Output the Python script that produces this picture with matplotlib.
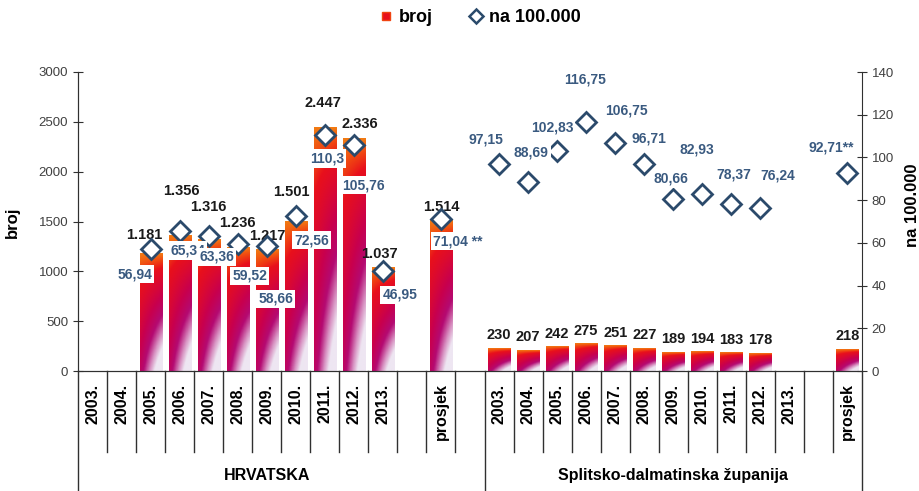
import numpy as np
import matplotlib.pyplot as plt
from matplotlib.colors import LinearSegmentedColormap
from matplotlib.lines import Line2D

plt.rcParams['font.family'] = ['Liberation Sans', 'DejaVu Sans']

# Podaci
godine = ["2003.", "2004.", "2005.", "2006.", "2007.", "2008.",
          "2009.", "2010.", "2011.", "2012.", "2013."]
kategorije = godine + ["", "prosjek", ""] + godine + ["", "prosjek"]

nan = np.nan
# Hrvatska: 2003.-2013., prazno, prosjek
hr_broj = [nan, nan, 1181, 1356, 1316, 1236, 1217, 1501, 2447, 2336, 1037, nan, 1514]
hr_stopa = [nan, nan, 56.94, 65.34, 63.36, 59.52, 58.66, 72.56, 110.3, 105.76, 46.95, nan, 71.04]
# Splitsko-dalmatinska: prazno, 2003.-2013., prazno, prosjek
st_broj = [nan, 230, 207, 242, 275, 251, 227, 189, 194, 183, 178, nan, nan, 218]
st_stopa = [nan, 97.15, 88.69, 102.83, 116.75, 106.75, 96.71, 80.66, 82.93, 78.37, 76.24, nan, nan, 92.71]

broj = hr_broj + st_broj
stopa = hr_stopa + st_stopa
sufiks = [""] * 27
sufiks[12] = " **"
sufiks[26] = "**"

# pomaci oznaka (pikseli) - samo raspored
pomak_broj = [(0, 0), (0, 0), (-6, 18), (2, 45), (0, 33), (0, 25), (1, 14), (-4, 29),
              (-2, 24), (6, 14), (-3, 14), (0, 0), (0, 13)] + [(0, 13)] * 14
pomak_stopa = [(0, 0), (0, 0), (-16, -25), (8, -19), (8, -21), (12, -32), (9, -53),
               (16, -24), (2, -23), (10, -40), (17, -24), (0, 0), (17, -22),
               (0, 0), (-13, 24), (3, 29), (-5, 24), (-1, 42), (11, 33),
               (5, 26), (-2, 20), (-5, 44), (2, 29), (17, 33), (0, 0), (0, 0),
               (-16, 25)]

x = np.arange(len(kategorije))

fig = plt.figure(figsize=(9.19, 4.91), dpi=100)
ax = fig.add_axes([78 / 919, 1 - 371 / 491, 784 / 919, 299 / 491])

# Stupci s gradijentom
stupci = ax.bar(x, broj, width=0.76, color='none', zorder=2)
cmap = LinearSegmentedColormap.from_list("grad", [
    (0.0, "#f27a12"), (0.07, "#f04412"), (0.15, "#e8101c"),
    (0.45, "#c8004e"), (0.65, "#b40a72"), (0.85, "#d892c2"), (1.0, "#eee6f2")])
tt, uu = np.mgrid[0:1:150j, 0:1:30j]
slika = cmap(np.clip(tt * (0.55 + 0.7 * uu), 0, 1))
for b in stupci:
    h = b.get_height()
    if np.isnan(h):
        continue
    ax.imshow(slika, extent=[b.get_x(), b.get_x() + b.get_width(), 0, h],
              aspect='auto', origin='upper', zorder=2, interpolation='bilinear')

ax.set_xlim(-0.5, len(kategorije) - 0.5)
ax.set_ylim(0, 3000)
ax.set_yticks(range(0, 3001, 500))

for i, v in enumerate(broj):
    if np.isnan(v):
        continue
    txt = f"{int(v):,}".replace(",", ".")
    ax.annotate(txt, (x[i], v), xytext=pomak_broj[i], textcoords='offset pixels',
                ha='center', va='center', fontsize=10.5, fontweight='bold',
                color='#1a1a1a', zorder=4)

# Stopa na 100.000
ax2 = ax.twinx()
ax2.set_ylim(0, 140)
ax2.set_yticks(range(0, 141, 20))
ax2.plot(x, stopa, ls='none', marker='D', ms=10, mfc='white', mec='#2b4a6b',
         mew=2, zorder=3)
for i, v in enumerate(stopa):
    if np.isnan(v):
        continue
    txt = f"{v:g}".replace(".", ",") + sufiks[i]
    ax2.annotate(txt, (x[i], v), xytext=pomak_stopa[i], textcoords='offset pixels',
                 ha='center', va='center', fontsize=10, fontweight='bold',
                 color='#3a5a80', zorder=4,
                 bbox=dict(boxstyle='square,pad=0.15', fc='white', ec='none'))

# Osi
for a in (ax, ax2):
    a.spines['top'].set_visible(False)
    for s in ('left', 'right', 'bottom'):
        a.spines[s].set_color('#303030')
ax.spines['right'].set_visible(False)
ax.tick_params(axis='y', direction='inout', length=7, labelsize=9.5,
               labelcolor='#404040', color='#303030')
ax2.tick_params(axis='y', direction='inout', length=7, labelsize=9.5,
                labelcolor='#404040', color='#303030')
ax.set_xticks(x, kategorije, rotation=90, fontsize=11.5, fontweight='bold')
ax.tick_params(axis='x', length=0, pad=9)

ax.set_ylabel("broj", fontsize=12, fontweight='bold')
ax.yaxis.set_label_coords(-0.074, 0.498)
ax2.set_ylabel("na 100.000", fontsize=12, fontweight='bold')
ax2.yaxis.set_label_coords(1.055, 0.553)

# Razdjelnici kategorija
trans = ax.get_xaxis_transform()
for k in range(len(kategorije) + 1):
    granica = k - 0.5
    dno = -0.401 if k in (0, 14, len(kategorije)) else -0.271
    ax.plot([granica, granica], [0, dno], transform=trans, color='#303030',
            lw=1, clip_on=False)

ax.text(6, -0.351, "HRVATSKA", transform=trans, ha='center', va='center',
        fontsize=11.5, fontweight='bold')
ax.text(20, -0.351, "Splitsko-dalmatinska županija", transform=trans,
        ha='center', va='center', fontsize=11.5, fontweight='bold')

# Legenda
ruke = [Line2D([], [], ls='none', marker='s', ms=6, mfc='#e8101c', mec='#f04412'),
        Line2D([], [], ls='none', marker='D', ms=7, mfc='white', mec='#2b4a6b', mew=1.8)]
fig.legend(ruke, ["broj", "na 100.000"], loc='center',
           bbox_to_anchor=(480 / 919, 1 - 18 / 491), ncol=2, frameon=False,
           prop=dict(weight='bold', size=13), handlelength=0.8,
           handletextpad=0.3, columnspacing=2.0)

plt.savefig("out.png", dpi=100)
